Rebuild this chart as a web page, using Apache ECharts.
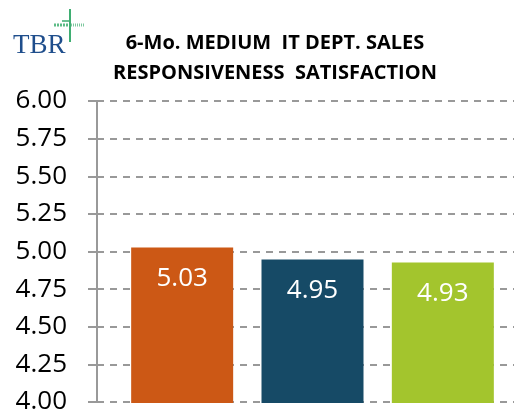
<!DOCTYPE html>
<html>
<head>
<meta charset="utf-8">
<script src="https://cdn.jsdelivr.net/npm/echarts@6/dist/echarts.min.js"></script>
<style>
  html, body { margin: 0; padding: 0; background: #fff; }
  #chart { width: 514px; height: 415px; }
</style>
</head>
<body>
<div id="chart"></div>
<script>
var categories = ['A', 'B', 'C'];
var values = [5.03, 4.95, 4.93];
var barColors = ['#CC5815', '#164A66', '#A3C52D'];
var yTicks = [4.00, 4.25, 4.50, 4.75, 5.00, 5.25, 5.50, 5.75, 6.00];

var chart = echarts.init(document.getElementById('chart'));

chart.setOption({
  animation: false,
  title: {
    text: '6-Mo. MEDIUM  IT DEPT. SALES\nRESPONSIVENESS  SATISFACTION',
    left: 270,
    top: 23,
    textAlign: 'center',
    textStyle: {
      fontFamily: 'Open Sans',
      fontWeight: 'bold',
      fontSize: 20,
      lineHeight: 30,
      color: '#000'
    }
  },
  graphic: [
    // TBR logo
    { type: 'text', left: 13, top: 32, style: { text: 'TBR', fontFamily: 'Liberation Serif', fontSize: 27, fill: '#1F4E8C' } },
    { type: 'line', shape: { x1: 70, y1: 9, x2: 70, y2: 42 }, style: { stroke: '#3FAE72', lineWidth: 2 } },
    { type: 'line', shape: { x1: 54, y1: 25, x2: 69, y2: 25 }, style: { stroke: '#5CBB86', lineWidth: 3, lineDash: [2, 1] } },
    { type: 'line', shape: { x1: 71, y1: 25, x2: 85, y2: 25 }, style: { stroke: '#7CC89E', lineWidth: 3, lineDash: [1, 1] } },
    { type: 'line', shape: { x1: 62, y1: 21, x2: 69, y2: 21 }, style: { stroke: '#6CC092', lineWidth: 2 } }
  ],
  grid: [
    { left: 97, right: 0, top: 101, bottom: 12 },
    { left: 117, right: 6, top: 101, bottom: 12 }
  ],
  xAxis: [
    { type: 'category', gridIndex: 0, data: categories, show: false },
    { type: 'category', gridIndex: 1, data: categories, show: false }
  ],
  yAxis: [
    {
      type: 'value',
      gridIndex: 0,
      min: 4,
      max: 6,
      interval: 0.25,
      axisLine: { show: true, lineStyle: { color: '#999', width: 2 } },
      axisTick: { show: true, length: 9, lineStyle: { color: '#999', width: 2 } },
      axisLabel: {
        margin: 30,
        fontFamily: 'Open Sans',
        fontSize: 26,
        color: '#000',
        formatter: function (v) { return v.toFixed(2); }
      },
      splitLine: { show: true, lineStyle: { color: '#999', width: 2, type: [7, 6] } }
    },
    { type: 'value', gridIndex: 1, min: 4, max: 6, interval: 0.25, show: false, splitLine: { show: false } }
  ],
  series: [{
    type: 'bar',
    xAxisIndex: 1,
    yAxisIndex: 1,
    barWidth: 102,
    data: values.map(function (v, i) {
      return { value: v, itemStyle: { color: barColors[i] } };
    }),
    label: {
      show: true,
      position: 'insideTop',
      distance: 18,
      fontFamily: 'Open Sans',
      fontSize: 26,
      color: '#fff',
      formatter: function (p) { return p.value.toFixed(2); }
    }
  }]
});
</script>
</body>
</html>
